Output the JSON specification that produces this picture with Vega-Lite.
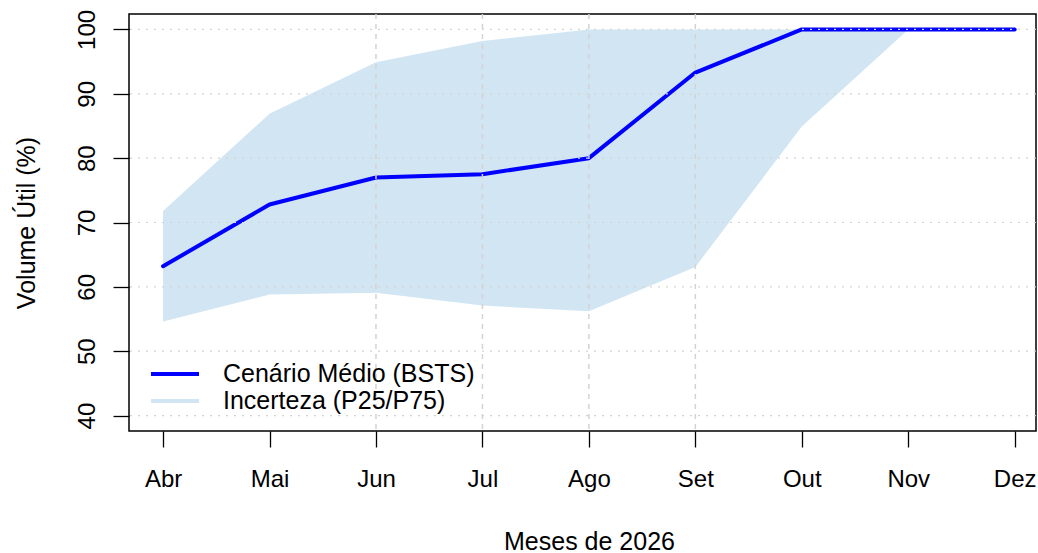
{
  "$schema": "https://vega.github.io/schema/vega-lite/v6.json",
  "width": 907,
  "height": 417,
  "autosize": {"type": "none"},
  "padding": {"left": 129, "top": 14, "right": 2, "bottom": 122},
  "background": "white",
  "config": {
    "view": {"stroke": "black", "strokeWidth": 1.5},
    "font": "Liberation Sans",
    "axis": {"domain": false, "grid": false, "tickColor": "black", "tickWidth": 1.3, "tickSize": 16,
      "labelFont": "Liberation Sans", "labelFontSize": 24, "labelColor": "black",
      "titleFont": "Liberation Sans", "titleFontSize": 25, "titleFontWeight": "normal", "titleColor": "black"}
  },
  "datasets": {
    "serie": [
      {"m": 1, "mes": "Abr", "medio": 63.2, "p25": 54.6, "p75": 71.8},
      {"m": 2, "mes": "Mai", "medio": 72.8, "p25": 58.8, "p75": 86.9},
      {"m": 3, "mes": "Jun", "medio": 77.0, "p25": 59.1, "p75": 94.9},
      {"m": 4, "mes": "Jul", "medio": 77.5, "p25": 57.1, "p75": 98.2},
      {"m": 5, "mes": "Ago", "medio": 80.0, "p25": 56.2, "p75": 100},
      {"m": 6, "mes": "Set", "medio": 93.3, "p25": 63.1, "p75": 100},
      {"m": 7, "mes": "Out", "medio": 100, "p25": 84.9, "p75": 100},
      {"m": 8, "mes": "Nov", "medio": 100, "p25": 100, "p75": 100},
      {"m": 9, "mes": "Dez", "medio": 100, "p25": 100, "p75": 100}
    ],
    "hgrid": [{"v": 40}, {"v": 50}, {"v": 60}, {"v": 70}, {"v": 80}, {"v": 90}, {"v": 100}],
    "vgrid": [{"v": 3}, {"v": 4}, {"v": 5}, {"v": 6}]
  },
  "layer": [
    {
      "data": {"name": "serie"},
      "mark": {"type": "area", "color": "#D1E5F3", "opacity": 1},
      "encoding": {
        "x": {"field": "m", "type": "quantitative",
          "scale": {"domain": [0.68, 9.2], "nice": false, "zero": false},
          "axis": {"values": [1, 2, 3, 4, 5, 6, 7, 8, 9], "title": "Meses de 2026",
            "labelExpr": "['Abr','Mai','Jun','Jul','Ago','Set','Out','Nov','Dez'][datum.value-1]",
            "labelPadding": 20, "titleX": 460, "titlePadding": 38}},
        "y": {"field": "p75", "type": "quantitative",
          "scale": {"domain": [37.6, 102.4], "nice": false, "zero": false},
          "axis": {"values": [40, 50, 60, 70, 80, 90, 100], "title": "Volume Útil (%)",
            "labelAngle": 270, "labelPadding": 14, "titlePadding": 36}},
        "y2": {"field": "p25"}
      }
    },
    {
      "data": {"name": "serie"},
      "transform": [{"calculate": "'Cenário Médio (BSTS)'", "as": "serie"}],
      "mark": {"type": "line", "strokeWidth": 4, "strokeCap": "round", "strokeJoin": "round"},
      "encoding": {
        "x": {"field": "m", "type": "quantitative"},
        "y": {"field": "medio", "type": "quantitative"},
        "color": {"field": "serie", "type": "nominal",
          "scale": {"domain": ["Cenário Médio (BSTS)", "Incerteza (P25/P75)"], "range": ["#0000FF", "#D1E5F3"]},
          "legend": {"title": null, "orient": "none", "legendX": 32, "legendY": 346,
            "symbolType": "M-2,0H2", "symbolSize": 576, "symbolStrokeWidth": 4,
            "labelFont": "Liberation Sans", "labelFontSize": 25, "labelColor": "black", "labelLimit": 0,
            "labelOffset": 34, "rowPadding": 0, "padding": 0}}
      }
    },
    {
      "data": {"name": "hgrid"},
      "mark": {"type": "rule", "color": "#D3D3D3", "strokeWidth": 1.2, "strokeDash": [2, 6]},
      "encoding": {"y": {"field": "v", "type": "quantitative"}}
    },
    {
      "data": {"name": "vgrid"},
      "mark": {"type": "rule", "color": "#D3D3D3", "strokeWidth": 1.5, "strokeDash": [5, 5]},
      "encoding": {"x": {"field": "v", "type": "quantitative"}}
    }
  ]
}
